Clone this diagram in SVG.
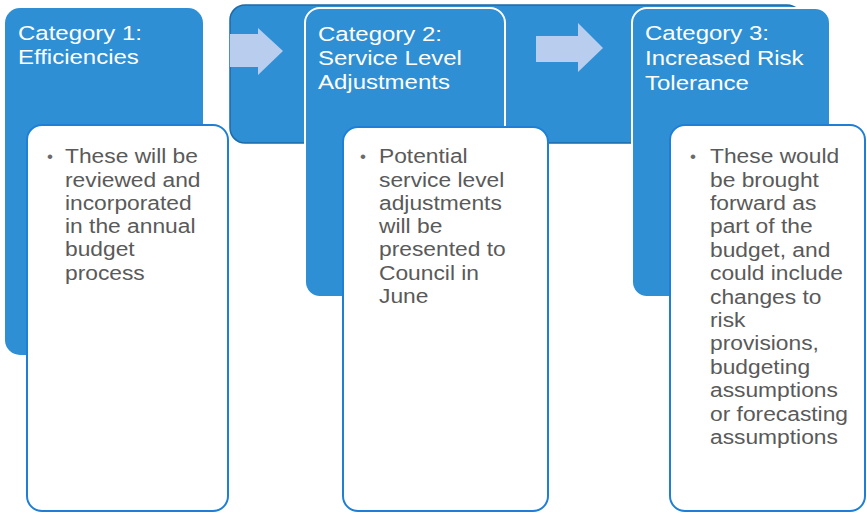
<svg xmlns="http://www.w3.org/2000/svg" width="867" height="513" viewBox="0 0 867 513">
  <style>
    .band { fill: #2e8fd4; stroke: #1c6aa8; stroke-width: 1.5; }
    .cat { fill: #2e8fd4; }
    .cat.edged { stroke: #ffffff; stroke-width: 2; }
    .card { fill: #ffffff; stroke: #1f7fd6; stroke-width: 2; }
    .title { font-family: "Liberation Sans", Arial, sans-serif; font-size: 20.5px; fill: #ffffff; }
    .body { font-family: "Liberation Sans", Arial, sans-serif; font-size: 21px; fill: #5a5a5a; }
    .bullet { font-family: "Liberation Sans", Arial, sans-serif; font-size: 17px; fill: #6a6a6a; }
    .arrow { fill: #b9cdee; }
  </style>

  <rect width="867" height="513" fill="#ffffff"/>

  <!-- backdrop band behind the category headers -->
  <rect class="band" x="230" y="5" width="572" height="138" rx="15"/>

  <!-- category 1 -->
  <g id="category-1">
    <rect class="cat" x="5" y="8" width="198" height="347" rx="15"/>
    <text class="title" transform="translate(18 40) scale(1.17 1)">
      <tspan x="0" y="0">Category 1:</tspan>
      <tspan x="0" y="24.5">Efficiencies</tspan>
    </text>
  </g>

  <!-- category 2 -->
  <g id="category-2">
    <rect class="cat edged" x="305" y="8" width="200" height="289" rx="15"/>
    <text class="title" transform="translate(318 40.5) scale(1.17 1)">
      <tspan x="0" y="0">Category 2:</tspan>
      <tspan x="0" y="24.5">Service Level</tspan>
      <tspan x="0" y="49">Adjustments</tspan>
    </text>
  </g>

  <!-- category 3 -->
  <g id="category-3">
    <rect class="cat edged" x="632" y="8" width="198" height="289" rx="15"/>
    <text class="title" transform="translate(645 40) scale(1.17 1)">
      <tspan x="0" y="0">Category 3:</tspan>
      <tspan x="0" y="25">Increased Risk</tspan>
      <tspan x="0" y="50">Tolerance</tspan>
    </text>
  </g>

  <!-- flow arrows between categories -->
  <g id="connectors">
    <polygon class="arrow" points="230,34 258,34 258,28 283,51 258,75 258,67 230,67"/>
    <polygon class="arrow" points="536,36 578,36 578,23 603,48 578,72 578,62 536,62"/>
  </g>

  <!-- detail card 1 -->
  <g id="card-1">
    <rect class="card" x="27" y="125" width="201" height="386" rx="15"/>
    <text class="bullet" x="47" y="162">•</text>
    <text class="body" transform="translate(65 163.3) scale(1.085 1)">
      <tspan x="0" y="0">These will be</tspan>
      <tspan x="0" y="23.3">reviewed and</tspan>
      <tspan x="0" y="46.6">incorporated</tspan>
      <tspan x="0" y="69.9">in the annual</tspan>
      <tspan x="0" y="93.2">budget</tspan>
      <tspan x="0" y="116.5">process</tspan>
    </text>
  </g>

  <!-- detail card 2 -->
  <g id="card-2">
    <rect class="card" x="343" y="127" width="205" height="384" rx="15"/>
    <text class="bullet" x="360" y="162">•</text>
    <text class="body" transform="translate(379 163.3) scale(1.085 1)">
      <tspan x="0" y="0">Potential</tspan>
      <tspan x="0" y="23.3">service level</tspan>
      <tspan x="0" y="46.6">adjustments</tspan>
      <tspan x="0" y="69.9">will be</tspan>
      <tspan x="0" y="93.2">presented to</tspan>
      <tspan x="0" y="116.5">Council in</tspan>
      <tspan x="0" y="139.8">June</tspan>
    </text>
  </g>

  <!-- detail card 3 -->
  <g id="card-3">
    <rect class="card" x="670" y="125" width="195" height="386" rx="15"/>
    <text class="bullet" x="690" y="162">•</text>
    <text class="body" transform="translate(710 163.3) scale(1.085 1)">
      <tspan x="0" y="0">These would</tspan>
      <tspan x="0" y="23.4">be brought</tspan>
      <tspan x="0" y="46.8">forward as</tspan>
      <tspan x="0" y="70.2">part of the</tspan>
      <tspan x="0" y="93.6">budget, and</tspan>
      <tspan x="0" y="117">could include</tspan>
      <tspan x="0" y="140.4">changes to</tspan>
      <tspan x="0" y="163.8">risk</tspan>
      <tspan x="0" y="187.2">provisions,</tspan>
      <tspan x="0" y="210.6">budgeting</tspan>
      <tspan x="0" y="234">assumptions</tspan>
      <tspan x="0" y="257.4">or forecasting</tspan>
      <tspan x="0" y="280.8">assumptions</tspan>
    </text>
  </g>
</svg>
